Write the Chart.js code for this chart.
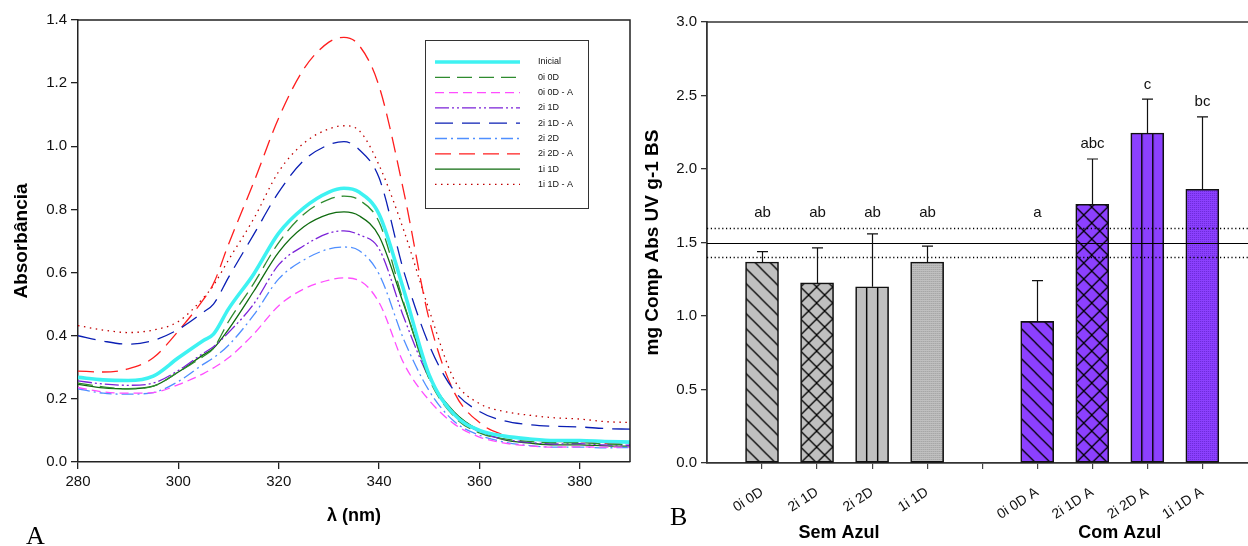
<!DOCTYPE html>
<html>
<head>
<meta charset="utf-8">
<script src="https://cdn.jsdelivr.net/npm/chart.js@4.4.1/dist/chart.umd.min.js"></script>
<style>
  html, body { margin: 0; padding: 0; background: #fff; overflow: hidden; }
  #wrap { position: relative; width: 1248px; height: 546px; }
  #spectra { position: absolute; left: 0; top: 0; width: 640px; height: 546px; }
  #bars { position: absolute; left: 640px; top: 0; width: 608px; height: 546px; }
  .panel { position: absolute; font-family: "Liberation Serif", "Times New Roman", serif; font-size: 26px; line-height: 30px; color: #000; }
</style>
</head>
<body>
<div id="wrap">
  <canvas id="spectra" width="640" height="546"></canvas>
  <canvas id="bars" width="608" height="546"></canvas>
  <div class="panel" style="left:26px; top:521px">A</div>
  <div class="panel" style="left:670px; top:502px">B</div>
</div>
<script>
// ---- panel A: absorbance spectra ----
const wavelengths = [280, 285, 290, 295, 300, 305, 307, 310, 315, 320, 325, 330, 333, 336, 340, 345, 350, 355, 360, 365, 370, 375, 380, 385, 390];

const inicial   = [0.268, 0.260, 0.258, 0.272, 0.330, 0.385, 0.405, 0.485, 0.595, 0.725, 0.805, 0.855, 0.867, 0.855, 0.785, 0.540, 0.275, 0.150, 0.100, 0.082, 0.073, 0.068, 0.068, 0.065, 0.063];
const s0i0D     = [0.250, 0.238, 0.232, 0.240, 0.285, 0.335, 0.360, 0.445, 0.565, 0.695, 0.785, 0.832, 0.842, 0.830, 0.760, 0.500, 0.262, 0.143, 0.092, 0.073, 0.065, 0.061, 0.061, 0.057, 0.056];
const s0i0DA    = [0.236, 0.222, 0.218, 0.220, 0.245, 0.280, 0.298, 0.330, 0.405, 0.495, 0.548, 0.576, 0.583, 0.575, 0.505, 0.310, 0.195, 0.120, 0.079, 0.060, 0.051, 0.047, 0.048, 0.047, 0.047];
const s2i1D     = [0.257, 0.247, 0.243, 0.250, 0.290, 0.345, 0.365, 0.410, 0.500, 0.625, 0.685, 0.725, 0.732, 0.720, 0.675, 0.455, 0.265, 0.150, 0.095, 0.072, 0.062, 0.057, 0.058, 0.054, 0.053];
const s2i1DA    = [0.400, 0.383, 0.373, 0.385, 0.420, 0.475, 0.500, 0.585, 0.720, 0.855, 0.955, 1.005, 1.015, 0.990, 0.900, 0.600, 0.370, 0.225, 0.160, 0.130, 0.118, 0.113, 0.111, 0.106, 0.104];
const s2i2D     = [0.232, 0.218, 0.215, 0.220, 0.255, 0.310, 0.330, 0.370, 0.465, 0.580, 0.640, 0.675, 0.681, 0.670, 0.595, 0.385, 0.225, 0.128, 0.085, 0.063, 0.052, 0.047, 0.047, 0.045, 0.046];
const s2i2DA    = [0.288, 0.285, 0.295, 0.330, 0.415, 0.515, 0.565, 0.690, 0.885, 1.090, 1.245, 1.330, 1.345, 1.320, 1.190, 0.850, 0.450, 0.220, 0.125, 0.085, 0.071, 0.065, 0.064, 0.059, 0.058];
const s1i1D     = [0.246, 0.235, 0.232, 0.240, 0.285, 0.340, 0.360, 0.420, 0.540, 0.665, 0.745, 0.785, 0.792, 0.780, 0.715, 0.495, 0.270, 0.158, 0.100, 0.070, 0.060, 0.054, 0.054, 0.051, 0.050];
const s1i1DA    = [0.432, 0.418, 0.410, 0.418, 0.445, 0.520, 0.560, 0.640, 0.770, 0.920, 1.010, 1.055, 1.065, 1.050, 0.940, 0.730, 0.480, 0.260, 0.185, 0.160, 0.148, 0.140, 0.136, 0.128, 0.125];

const seriesNames = ['Inicial', '0i 0D', '0i 0D - A', '2i 1D', '2i 1D - A', '2i 2D', '2i 2D - A', '1i 1D', '1i 1D - A'];
const seriesValues = [inicial, s0i0D, s0i0DA, s2i1D, s2i1DA, s2i2D, s2i2DA, s1i1D, s1i1DA];

// ---- panel B: UV-absorbing compounds ----
const barCategories = ['0i 0D', '2i 1D', '2i 2D', '1i 1D', '', '0i 0D A', '2i 1D A', '2i 2D A', '1i 1D A'];
const barMeans  = [1.367, 1.225, 1.199, 1.367, null, 0.963, 1.760, 2.245, 1.862];
const barErrors = [0.071, 0.239, 0.360, 0.109, null, 0.277, 0.308, 0.230, 0.492];
const barLetters = ['ab', 'ab', 'ab', 'ab', '', 'a', 'abc', 'c', 'bc'];
const refMean = 1.5;
const refLow = 1.4;
const refHigh = 1.6;

const FONT = '"Liberation Sans", Arial, sans-serif';

// line styles, same order as seriesNames
const lineStyles = [
  { color: '#3ef2f2', width: 3.6, dash: [] },
  { color: '#2e8b2e', width: 1.3, dash: [15, 7] },
  { color: '#ff4dff', width: 1.3, dash: [9, 5] },
  { color: '#7b22d8', width: 1.3, dash: [14, 3, 2, 3, 2, 3] },
  { color: '#0a1eb4', width: 1.3, dash: [18, 9] },
  { color: '#4f8fff', width: 1.3, dash: [12, 4, 2, 4] },
  { color: '#ff1e1e', width: 1.3, dash: [16, 8] },
  { color: '#0f6b0f', width: 1.3, dash: [] },
  { color: '#c00000', width: 1.3, dash: [1.5, 4.5] }
];

// box round the plot and the legend inside it
const spectraDecor = {
  id: 'spectraDecor',
  afterDraw(chart) {
    const { ctx, chartArea } = chart;
    ctx.save();
    ctx.strokeStyle = '#222';
    ctx.lineWidth = 1.5;
    ctx.beginPath();
    ctx.moveTo(chartArea.left, chartArea.top);
    ctx.lineTo(chartArea.right, chartArea.top);
    ctx.lineTo(chartArea.right, chartArea.bottom);
    ctx.stroke();

    ctx.lineWidth = 1;
    ctx.strokeStyle = '#333';
    ctx.strokeRect(425.5, 40.5, 163, 168);
    ctx.font = '9px ' + FONT;
    ctx.textBaseline = 'middle';
    chart.data.datasets.forEach((ds, i) => {
      const y = 62 + i * 15.3;
      ctx.strokeStyle = ds.borderColor;
      ctx.lineWidth = ds.borderWidth;
      ctx.setLineDash(ds.borderDash);
      ctx.beginPath();
      ctx.moveTo(435, y);
      ctx.lineTo(520, y);
      ctx.stroke();
      ctx.setLineDash([]);
      ctx.fillStyle = '#111';
      ctx.fillText(ds.label, 538, y);
    });
    ctx.restore();
  }
};

new Chart(document.getElementById('spectra'), {
  type: 'line',
  data: {
    datasets: seriesNames.map((name, i) => ({
      label: name,
      data: wavelengths.map((w, j) => ({ x: w, y: seriesValues[i][j] })),
      borderColor: lineStyles[i].color,
      borderWidth: lineStyles[i].width,
      borderDash: lineStyles[i].dash,
      pointRadius: 0,
      fill: false,
      cubicInterpolationMode: 'monotone'
    }))
  },
  options: {
    responsive: false,
    animation: false,
    layout: { padding: { left: 0, right: 10, top: 20, bottom: 0 } },
    plugins: { legend: { display: false }, tooltip: { enabled: false } },
    scales: {
      x: {
        type: 'linear',
        min: 280,
        max: 390,
        afterBuildTicks: s => { s.ticks = s.ticks.filter(t => t.value % 20 === 0 && t.value < 390); },
        afterFit: s => { s.height = 84; s.paddingLeft = 0; s.paddingRight = 0; },
        ticks: { stepSize: 20, maxRotation: 0, padding: 4, color: '#111', font: { family: FONT, size: 15 } },
        grid: { drawOnChartArea: false, tickLength: 7, color: '#222', lineWidth: 1.3 },
        border: { color: '#222', width: 1.5 },
        title: { display: true, text: 'λ (nm)', color: '#000', font: { family: FONT, size: 18, weight: 'bold' }, padding: { top: 0, bottom: 19 } }
      },
      y: {
        min: 0,
        max: 1.4,
        afterFit: s => { s.width = 78; s.paddingTop = 0; s.paddingBottom = 0; },
        ticks: { stepSize: 0.2, padding: 4, color: '#111', font: { family: FONT, size: 15 }, callback: v => v.toFixed(1) },
        grid: { drawOnChartArea: false, tickLength: 7, color: '#222', lineWidth: 1.3 },
        border: { color: '#222', width: 1.5 },
        title: { display: true, text: 'Absorbância', color: '#000', font: { family: FONT, size: 19, weight: 'bold' }, padding: { top: 10, bottom: 0 } }
      }
    }
  },
  plugins: [spectraDecor]
});

// ---- hatched fills for the bars ----
const barKinds = ['diag', 'cross', 'vert', 'dots', 'diag', 'diag', 'cross', 'vert', 'dots'];
const GRAY = '#c0c0c0';
const PURPLE = '#8c40ff';
const BAR_W = 33;
const patternCache = {};

function makePattern(kind, base, left, bottom) {
  const key = kind + base + Math.round(left);
  if (patternCache[key]) return patternCache[key];
  let w = 15, h = 15;
  if (kind === 'cross') { w = 16; h = 16; }
  if (kind === 'vert') { w = 11; h = 4; }
  if (kind === 'dots') { w = 2; h = 2; }
  const c = document.createElement('canvas');
  c.width = w;
  c.height = h;
  const g = c.getContext('2d');
  g.fillStyle = base;
  g.fillRect(0, 0, w, h);
  g.strokeStyle = '#000';
  g.lineWidth = 1.3;
  if (kind === 'diag' || kind === 'cross') {
    g.beginPath();
    for (let k = -1; k <= 1; k++) {
      g.moveTo(-w + k * w, -h);
      g.lineTo(2 * w + k * w, 2 * h);
    }
    if (kind === 'cross') {
      for (let k = -1; k <= 1; k++) {
        g.moveTo(-w + k * w, 2 * h);
        g.lineTo(2 * w + k * w, -h);
      }
    }
    g.stroke();
  } else if (kind === 'vert') {
    g.fillStyle = '#000';
    g.fillRect(0, 0, 1.4, h);
  } else if (kind === 'dots') {
    g.fillStyle = base === GRAY ? '#9c9c9c' : '#6a28d6';
    g.fillRect(0, 0, 1, 1);
  }
  const p = g.createPattern(c, 'repeat');
  p.setTransform(new DOMMatrix().translate(kind === 'vert' ? left - 0.7 : left, bottom));
  patternCache[key] = p;
  return p;
}

const barPoints = [];
barMeans.forEach((m, i) => { if (m !== null) barPoints.push({ x: i + 1, y: m }); });

const barDecor = {
  id: 'barDecor',
  afterDatasetsDraw(chart) {
    const { ctx, chartArea, scales: { x, y } } = chart;
    ctx.save();
    // reference line and band
    [[refHigh, [1.2, 2.6]], [refLow, [1.2, 2.6]], [refMean, []]].forEach(([v, dash]) => {
      const py = Math.round(y.getPixelForValue(v)) + 0.5;
      ctx.strokeStyle = '#000';
      ctx.lineWidth = dash.length ? 1.3 : 1.2;
      ctx.setLineDash(dash);
      ctx.beginPath();
      ctx.moveTo(chartArea.left, py);
      ctx.lineTo(chartArea.right, py);
      ctx.stroke();
    });
    ctx.setLineDash([]);
    // error bars and letters
    ctx.font = '15px ' + FONT;
    ctx.textAlign = 'center';
    ctx.textBaseline = 'middle';
    barMeans.forEach((m, i) => {
      if (m === null) return;
      const px = Math.round(x.getPixelForValue(i + 1)) + 0.5;
      const top = y.getPixelForValue(m);
      const errTop = y.getPixelForValue(m + barErrors[i]);
      ctx.strokeStyle = '#111';
      ctx.lineWidth = 1.2;
      ctx.beginPath();
      ctx.moveTo(px, top);
      ctx.lineTo(px, errTop);
      ctx.moveTo(px - 5.5, errTop);
      ctx.lineTo(px + 5.5, errTop);
      ctx.stroke();
      ctx.fillStyle = '#111';
      ctx.fillText(barLetters[i], px, y.getPixelForValue(Math.max(m + barErrors[i], refHigh) + 0.1));
    });
    // top frame line
    ctx.strokeStyle = '#333';
    ctx.lineWidth = 1.5;
    ctx.beginPath();
    ctx.moveTo(chartArea.left, chartArea.top);
    ctx.lineTo(chartArea.right, chartArea.top);
    ctx.stroke();
    // group names under the categories
    ctx.font = 'bold 18px ' + FONT;
    ctx.fillStyle = '#000';
    ctx.fillText('Sem Azul', x.getPixelForValue(2.4), 533);
    ctx.fillText('Com Azul', x.getPixelForValue(7.5), 533);
    ctx.restore();
  }
};

new Chart(document.getElementById('bars'), {
  type: 'bar',
  data: {
    datasets: [{
      data: barPoints,
      barThickness: BAR_W,
      borderColor: '#111',
      borderWidth: 1.6,
      borderSkipped: false,
      backgroundColor: c => {
        if (c.type !== 'data') return GRAY;
        const idx = c.raw.x - 1;
        const base = idx < 4 ? GRAY : PURPLE;
        const left = c.chart.scales.x.getPixelForValue(c.raw.x) - BAR_W / 2;
        const bottom = c.chart.scales.y.getPixelForValue(0);
        return makePattern(barKinds[idx], base, left, bottom);
      }
    }]
  },
  options: {
    responsive: false,
    animation: false,
    layout: { padding: { left: 0, right: 0, top: 22, bottom: 0 } },
    plugins: { legend: { display: false }, tooltip: { enabled: false } },
    scales: {
      x: {
        type: 'linear',
        min: 0,
        max: 9.83,
        offset: false,
        afterBuildTicks: s => { s.ticks = barCategories.map((_, i) => ({ value: i + 1 })); },
        afterFit: s => { s.height = 83; s.paddingLeft = 0; s.paddingRight = 0; },
        ticks: {
          autoSkip: false,
          minRotation: 33,
          maxRotation: 33,
          padding: 15,
          color: '#111',
          font: { family: FONT, size: 14 },
          callback: v => barCategories[v - 1] || ''
        },
        grid: { offset: false, drawOnChartArea: false, tickLength: 6, color: '#444', lineWidth: 1.2 },
        border: { color: '#333', width: 1.8 }
      },
      y: {
        min: 0,
        max: 3,
        afterFit: s => { s.width = 67; s.paddingTop = 0; s.paddingBottom = 0; },
        ticks: { stepSize: 0.5, padding: 4, color: '#111', font: { family: FONT, size: 15 }, callback: v => v.toFixed(1) },
        grid: { drawOnChartArea: false, tickLength: 6, color: '#333', lineWidth: 1.3 },
        border: { color: '#333', width: 1.8 },
        title: { display: true, text: 'mg Comp Abs UV g-1 BS', color: '#000', font: { family: FONT, size: 19, weight: 'bold' }, padding: { top: 1, bottom: 0 } }
      }
    }
  },
  plugins: [barDecor]
});
</script>
</body>
</html>
